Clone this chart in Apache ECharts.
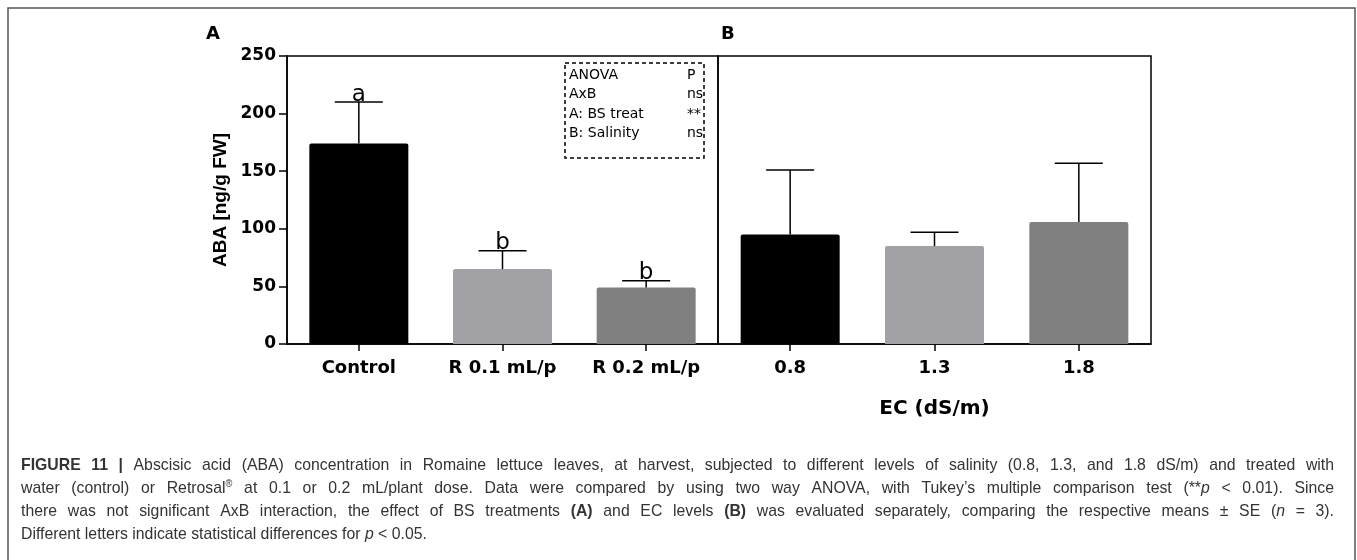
<!DOCTYPE html>
<html>
<head>
<meta charset="utf-8">
<style>
  html, body { margin: 0; padding: 0; background: #fff; }
  #chart { width: 1357px; height: 560px; }
</style>
<script src="https://cdn.jsdelivr.net/npm/echarts@6/dist/echarts.min.js"></script>
</head>
<body>
<div id="chart"></div>
<script>
// Panel A: biostimulant treatments
const treatCats = ['Control', 'R 0.1 mL/p', 'R 0.2 mL/p'];
const treatMeans = [174, 65, 49];
const treatSE = [36, 16, 6];
const treatLetters = ['a', 'b', 'b'];

// Panel B: salinity levels (EC)
const ecCats = ['0.8', '1.3', '1.8'];
const ecMeans = [95, 85, 106];
const ecSE = [56, 12, 51];

const barColors = ['#000000', '#a2a2a6', '#808080'];
const yTicks = [0, 50, 100, 150, 200, 250];

// ANOVA summary table
const anovaTerms = ['ANOVA', 'AxB', 'A: BS treat', 'B: Salinity'];
const anovaP = ['P', 'ns', '**', 'ns'];

// Caption: each line is a list of [text, style] runs ('' plain, 'b' bold, 'i' italic, 's' superscript)
const captionLines = [
  [['FIGURE 11 |', 'b'], [' Abscisic acid (ABA) concentration in Romaine lettuce leaves, at harvest, subjected to different levels of salinity (0.8, 1.3, and 1.8 dS/m) and treated with', '']],
  [['water (control) or Retrosal', ''], ['\u00ae', 's'], [' at 0.1 or 0.2 mL/plant dose. Data were compared by using two way ANOVA, with Tukey\u2019s multiple comparison test (**', ''], ['p', 'i'], [' < 0.01). Since', '']],
  [['there was not significant AxB interaction, the effect of BS treatments ', ''], ['(A)', 'b'], [' and EC levels ', ''], ['(B)', 'b'], [' was evaluated separately, comparing the respective means \u00b1 SE (', ''], ['n', 'i'], [' = 3).', '']],
  [['Different letters indicate statistical differences for ', ''], ['p', 'i'], [' < 0.05.', '']]
];
// justified lines end at the text block's right edge; the last line is set ragged
const captionJustify = [true, true, true, false];

const AX_FONT = '"DejaVu Sans", Verdana, sans-serif';
const ARIAL = 'Arial, "Liberation Sans", Helvetica, sans-serif';
const CAP_FAMILY = '"Liberation Sans", Arial, sans-serif';
const CAP_SIZE = 17;
const CAP_SQUEEZE = 0.93;
const CAP_LEFT = 21, CAP_RIGHT = 1334, CAP_TOP = 465, CAP_LEAD = 23.2;

const chart = echarts.init(document.getElementById('chart'), null, { renderer: 'canvas' });

function barData(means) {
  return means.map((v, i) => ({ value: v, itemStyle: { color: barColors[i] } }));
}
function errData(means, se) {
  return means.map((v, i) => [i, v, v + se[i]]);
}
function errorRenderer(letters) {
  return function (params, api) {
    const i = api.value(0);
    const base = api.coord([i, api.value(1)]);
    const top = api.coord([i, api.value(2)]);
    const half = 24;
    const st = { stroke: '#000', lineWidth: 1.5 };
    const children = [
      { type: 'line', shape: { x1: base[0], y1: base[1], x2: top[0], y2: top[1] }, style: st },
      { type: 'line', shape: { x1: top[0] - half, y1: top[1], x2: top[0] + half, y2: top[1] }, style: st }
    ];
    if (letters) {
      children.push({
        type: 'text', x: top[0], y: top[1] + 4,
        style: { text: letters[params.dataIndex], align: 'center', verticalAlign: 'bottom',
                 font: '23px ' + AX_FONT, fill: '#000' }
      });
    }
    return { type: 'group', children };
  };
}

// ---- caption layout: words placed one by one so justified lines fill the block width
const measureCtx = document.createElement('canvas').getContext('2d');
function runFont(s) {
  if (s === 'b') return 'bold ' + CAP_SIZE + 'px ' + CAP_FAMILY;
  if (s === 'i') return 'italic ' + CAP_SIZE + 'px ' + CAP_FAMILY;
  if (s === 's') return '10px ' + CAP_FAMILY;
  return CAP_SIZE + 'px ' + CAP_FAMILY;
}
function textW(t, s) { measureCtx.font = runFont(s); return measureCtx.measureText(t).width; }
const capRich = {
  b: { fontWeight: 'bold', fontFamily: CAP_FAMILY, fontSize: CAP_SIZE, fill: '#333' },
  i: { fontStyle: 'italic', fontFamily: CAP_FAMILY, fontSize: CAP_SIZE, fill: '#333' },
  s: { fontSize: 10, verticalAlign: 'top', padding: [0, 0, 8, 0], fontFamily: CAP_FAMILY, fill: '#333' }
};
function splitWords(runs) {
  const words = [];
  let cur = [];
  runs.forEach(([t, s]) => {
    t.split(/( )/).forEach(part => {
      if (part === ' ') { if (cur.length) { words.push(cur); cur = []; } }
      else if (part) cur.push([part, s]);
    });
  });
  if (cur.length) words.push(cur);
  return words;
}
const captionGraphics = [];
captionLines.forEach((runs, k) => {
  const words = splitWords(runs);
  const widths = words.map(w => w.reduce((a, [t, s]) => a + textW(t, s), 0) * CAP_SQUEEZE);
  const total = widths.reduce((a, b) => a + b, 0);
  const gap = captionJustify[k]
    ? (CAP_RIGHT - CAP_LEFT - total) / (words.length - 1)
    : textW(' ', '') * CAP_SQUEEZE;
  let x = CAP_LEFT;
  words.forEach((w, j) => {
    captionGraphics.push({
      type: 'text', x: x, y: CAP_TOP + k * CAP_LEAD, scaleX: CAP_SQUEEZE, silent: true,
      style: {
        text: w.map(([t, s]) => (s ? '{' + s + '|' + t + '}' : t)).join(''),
        verticalAlign: 'middle', font: runFont(''), fill: '#333', rich: capRich
      }
    });
    x += widths[j] + gap;
  });
});

const gridTop = 56, gridH = 288;

const xAxisCommon = {
  type: 'category',
  axisLine: { show: true, lineStyle: { color: '#000', width: 1.5 } },
  axisTick: { show: true, alignWithLabel: true, length: 7, lineStyle: { color: '#000', width: 1.5 } },
  axisLabel: { color: '#000', fontFamily: AX_FONT, fontWeight: 'bold', fontSize: 18, margin: 15 },
  splitLine: { show: false }
};

const option = {
  animation: false,
  backgroundColor: '#fff',
  grid: [
    { left: 287, top: gridTop, width: 431, height: gridH, show: true, borderColor: '#000', borderWidth: 1.5, backgroundColor: 'transparent' },
    { left: 718, top: gridTop, width: 433, height: gridH, show: true, borderColor: '#000', borderWidth: 1.5, backgroundColor: 'transparent' }
  ],
  xAxis: [
    Object.assign({}, xAxisCommon, { gridIndex: 0, data: treatCats }),
    Object.assign({}, xAxisCommon, {
      gridIndex: 1, data: ecCats,
      name: 'EC (dS/m)', nameLocation: 'middle', nameGap: 55, nameMoveOverlap: false,
      nameTextStyle: { color: '#000', fontFamily: AX_FONT, fontWeight: 'bold', fontSize: 20 }
    })
  ],
  yAxis: [
    {
      type: 'value', gridIndex: 0, min: 0, max: 250, interval: 50,
      name: 'ABA [ng/g FW]', nameLocation: 'middle', nameGap: 57, nameRotate: 90, nameMoveOverlap: false,
      nameTextStyle: { color: '#000', fontFamily: ARIAL, fontWeight: 'bold', fontSize: 19 },
      axisLine: { show: true, lineStyle: { color: '#000', width: 1.5 } },
      axisTick: { show: true, length: 8, lineStyle: { color: '#000', width: 1.5 } },
      axisLabel: { color: '#000', fontFamily: AX_FONT, fontWeight: 'bold', fontSize: 17, margin: 11,
                   formatter: v => (yTicks.indexOf(v) >= 0 ? String(v) : '') },
      splitLine: { show: false }
    },
    {
      type: 'value', gridIndex: 1, min: 0, max: 250, interval: 50,
      axisLine: { show: false }, axisTick: { show: false }, axisLabel: { show: false },
      splitLine: { show: false }
    }
  ],
  series: [
    { type: 'bar', xAxisIndex: 0, yAxisIndex: 0, data: barData(treatMeans), barWidth: 99,
      itemStyle: { borderRadius: [2, 2, 0, 0] }, z: 2 },
    { type: 'custom', xAxisIndex: 0, yAxisIndex: 0, data: errData(treatMeans, treatSE),
      renderItem: errorRenderer(treatLetters), z: 3 },
    { type: 'bar', xAxisIndex: 1, yAxisIndex: 1, data: barData(ecMeans), barWidth: 99,
      itemStyle: { borderRadius: [2, 2, 0, 0] }, z: 2 },
    { type: 'custom', xAxisIndex: 1, yAxisIndex: 1, data: errData(ecMeans, ecSE),
      renderItem: errorRenderer(null), z: 3 }
  ],
  graphic: [
    // outer frame
    { type: 'rect', shape: { x: 8, y: 8, width: 1347, height: 600 }, style: { fill: null, stroke: '#555', lineWidth: 1.5 }, silent: true },
    // panel letters
    { type: 'text', x: 206, y: 25, style: { text: 'A', font: 'bold 18px ' + AX_FONT, fill: '#000' } },
    { type: 'text', x: 721, y: 25, style: { text: 'B', font: 'bold 18px ' + AX_FONT, fill: '#000' } },
    // ANOVA box
    { type: 'rect', shape: { x: 565, y: 63, width: 139, height: 95 },
      style: { fill: '#fff', stroke: '#000', lineWidth: 1.5, lineDash: [4, 3] }, z: 10 },
    ...anovaTerms.map((t, k) => ({ type: 'text', x: 569, y: 75 + k * 19.5, z: 11,
      style: { text: t, font: '14px ' + AX_FONT, fill: '#000', verticalAlign: 'middle' } })),
    ...anovaP.map((t, k) => ({ type: 'text', x: 687, y: 75 + k * 19.5, z: 11,
      style: { text: t, font: '14px ' + AX_FONT, fill: '#000', verticalAlign: 'middle' } })),
    ...captionGraphics
  ]
};

chart.setOption(option);
</script>
</body>
</html>
